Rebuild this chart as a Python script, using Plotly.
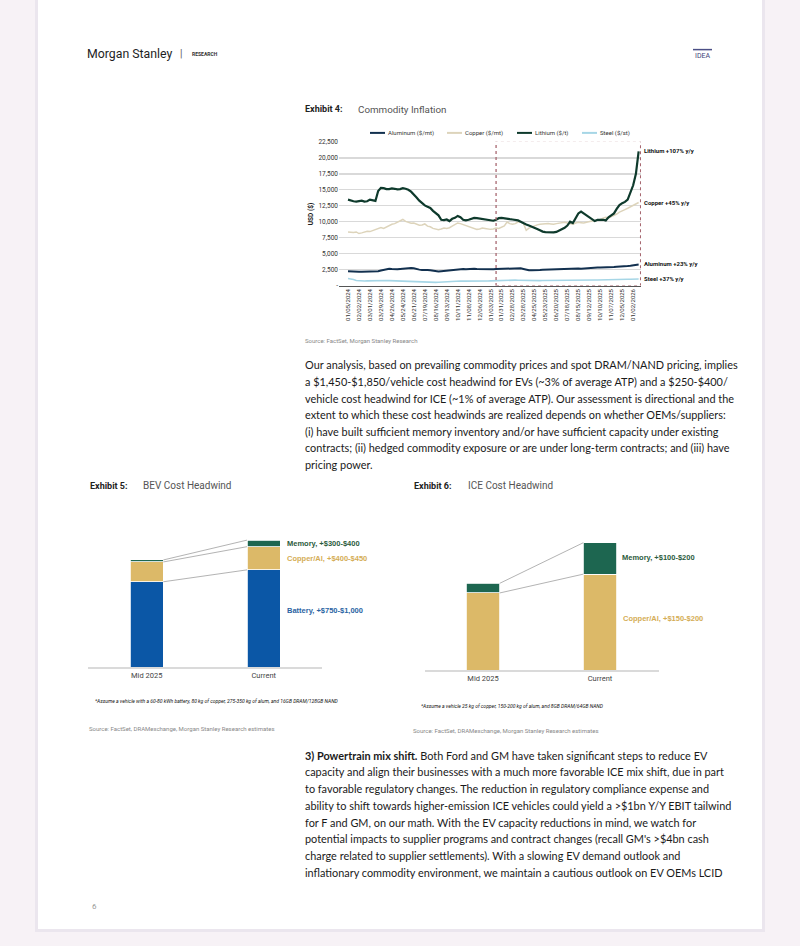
import plotly.graph_objects as go
import pandas as pd

W, H = 800, 946

# ---------------- Exhibit 4 data (weekly) ----------------
dates = pd.date_range("2024-01-05", periods=107, freq="7D")

lithium = [
    13450, 13300, 13200, 13150, 13250, 13300, 13150, 13200, 13450, 13300,
    13250, 14800, 15300, 15250, 15100, 15100, 15200, 15150, 15050, 15100,
    15250, 15150, 15000, 14700, 14300, 13800, 13300, 12900, 12550, 12350,
    12150, 11700, 11300, 11000, 10300, 10250, 10350, 10100, 10450, 10600,
    10900, 10700, 10300, 10200, 10300, 10450, 10600, 10550, 10500, 10450,
    10400, 10350, 10250, 10150, 10300, 10550, 10600, 10500, 10450, 10400,
    10350, 10300, 10200, 10000, 9750, 9550, 9400, 9250, 9050, 8850,
    8650, 8450, 8380, 8330, 8300, 8320, 8400, 8600, 8800, 9050,
    9400, 10000, 9800, 10500, 11300, 11600, 11300, 10900, 10600, 10300,
    10100, 10300, 10350, 10300, 10200, 10700, 11000, 11300, 12000, 12600,
    12900, 13100, 13450, 14500, 15700, 17500, 21000]

copper = [
    8400, 8350, 8300, 8400, 8150, 8250, 8400, 8500, 8450, 8600,
    8700, 8900, 9100, 8950, 9200, 9400, 9600, 9700, 9900, 10100,
    10350, 10050, 9900, 9750, 9800, 9650, 9450, 9500, 9650, 9300,
    9200, 8950, 8800, 8750, 8850, 9000, 8950, 9050, 9300, 9550,
    9800, 9700, 9550, 9450, 9300, 9050, 8950, 8800, 8850, 9000,
    8950, 8850, 8800, 8850, 9000, 8950, 9100, 9350, 9950, 9700,
    9600, 9700, 9950, 10000, 9700, 8650, 9000, 9200, 9350, 9500,
    9600, 9650, 9650, 9700, 9650, 9600, 9700, 9750, 9850, 9900,
    9800, 9700, 9600, 9800, 9900, 9850, 9800, 9900, 10050, 10100,
    10150, 10200, 10350, 10550, 10700, 10600, 10800, 10950, 11200, 11500,
    11750, 11900, 12100, 12300, 12550, 12800, 13000]

aluminum = [
    2250, 2200, 2150, 2100, 2150, 2150, 2150, 2150, 2180, 2200,
    2220, 2250, 2350, 2450, 2550, 2650, 2600, 2550, 2550, 2600,
    2650, 2600, 2650, 2750, 2700, 2550, 2500, 2450, 2500, 2450,
    2400, 2300, 2250, 2200, 2250, 2300, 2400, 2450, 2500, 2550,
    2600, 2650, 2600, 2550, 2600, 2600, 2650, 2600, 2580, 2550,
    2550, 2520, 2500, 2550, 2600, 2620, 2600, 2650, 2650, 2700,
    2650, 2700, 2750, 2700, 2600, 2450, 2400, 2400, 2450, 2500,
    2450, 2480, 2500, 2500, 2550, 2550, 2580, 2600, 2580, 2600,
    2620, 2600, 2620, 2650, 2680, 2650, 2700, 2750, 2700, 2750,
    2800, 2850, 2850, 2850, 2800, 2850, 2900, 2900, 2950, 2950,
    3000, 3000, 3050, 3100, 3150, 3250, 3300]

steel = [
    1100, 1050, 950, 800, 750, 750, 720, 740, 760, 780,
    800, 820, 830, 820, 800, 780, 760, 720, 700, 680,
    660, 650, 640, 630, 640, 640, 620, 600, 580, 560,
    540, 520, 500, 520, 560, 600, 640, 680, 720, 740,
    730, 720, 700, 690, 680, 680, 690, 700, 700, 690,
    700, 720, 740, 760, 780, 800, 850, 880, 900, 880,
    860, 850, 840, 820, 800, 780, 760, 750, 760, 770,
    780, 790, 800, 800, 810, 800, 810, 820, 820, 830,
    830, 830, 840, 840, 840, 850, 850, 860, 860, 870,
    880, 880, 880, 890, 900, 900, 910, 920, 940, 950,
    960, 980, 990, 1000, 1010, 1020, 1030]

series_names = ["Aluminum ($/mt)", "Copper ($/mt)", "Lithium ($/t)", "Steel ($/st)"]
end_labels = ["Aluminum +23% y/y", "Copper +45% y/y", "Lithium +107% y/y", "Steel +37% y/y"]

y_ticks = [0, 2500, 5000, 7500, 10000, 12500, 15000, 17500, 20000, 22500]
y_ticktext = ["-", "2,500", "5,000", "7,500", "10,000", "12,500", "15,000", "17,500", "20,000", "22,500"]
x_tick_dates = pd.date_range("2024-01-05", "2026-01-02", freq="28D")
x_ticktext = [d.strftime("%m/%d/%Y") for d in x_tick_dates]

# ---------------- Exhibit 5 / 6 data (schematic) ----------------
bar_cats = ["Mid 2025", "Current"]
bev_battery = [86, 98]
bev_copper = [20, 23.4]
bev_memory = [2, 6.6]
ice_copper = [78, 97]
ice_memory = [9.7, 31.7]

C_BATT = "#0b57a6"
C_COPPER = "#dcb968"
C_MEM = "#1d6650"

def X(px):
    return px / W

def Y(py):
    return 1 - py / H

fig = go.Figure()

line_styles = {
    "Aluminum ($/mt)": ("#12304f", 2.0, aluminum),
    "Copper ($/mt)": ("#ddd4bb", 1.5, copper),
    "Lithium ($/t)": ("#0e3a2c", 2.2, lithium),
    "Steel ($/st)": ("#a6d6e6", 1.6, steel),
}
for name in ["Steel ($/st)", "Copper ($/mt)", "Aluminum ($/mt)", "Lithium ($/t)"]:
    col, wd, vals = line_styles[name]
    fig.add_trace(go.Scatter(x=dates, y=vals, mode="lines", name=name,
                             line=dict(color=col, width=wd), xaxis="x", yaxis="y",
                             showlegend=False, hoverinfo="skip"))

# BEV stacked bars
for vals, col, nm in [(bev_battery, C_BATT, "Battery"), (bev_copper, C_COPPER, "Copper/Al"), (bev_memory, C_MEM, "Memory")]:
    fig.add_trace(go.Bar(x=[0, 1], y=vals, marker=dict(color=col, line=dict(color="white", width=0.8)),
                         width=0.285, xaxis="x2", yaxis="y2", showlegend=False, name=nm))
# ICE stacked bars
for vals, col, nm in [(ice_copper, C_COPPER, "Copper/Al"), (ice_memory, C_MEM, "Memory")]:
    fig.add_trace(go.Bar(x=[0, 1], y=vals, marker=dict(color=col, line=dict(color="white", width=0.8)),
                         width=0.285, xaxis="x3", yaxis="y3", showlegend=False, name=nm))

shapes = []
# page background
shapes.append(dict(type="rect", xref="paper", yref="paper", x0=X(35), x1=X(765), y0=Y(936), y1=Y(-5),
                   fillcolor="#ebe6ee", line=dict(width=0), layer="below"))
shapes.append(dict(type="rect", xref="paper", yref="paper", x0=X(38), x1=X(762), y0=Y(933), y1=Y(-5),
                   fillcolor="white", line=dict(width=0), layer="below"))

# dashed highlight box on exhibit 4
shapes.append(dict(type="rect", xref="x", yref="y", x0="2025-01-17", x1="2026-01-21", y0=0, y1=22650,
                   line=dict(color="#a76770", width=1.3, dash="dot"), fillcolor="rgba(0,0,0,0)"))

# manual legend for exhibit 4
leg_items = [("Aluminum ($/mt)", "#12304f", 370), ("Copper ($/mt)", "#ddd4bb", 447),
             ("Lithium ($/t)", "#0e3a2c", 517), ("Steel ($/st)", "#a6d6e6", 582)]
annotations = []
for nm, col, lx in leg_items:
    shapes.append(dict(type="line", xref="paper", yref="paper", x0=X(lx), x1=X(lx + 15), y0=Y(130), y1=Y(130),
                       line=dict(color=col, width=2)))
    annotations.append(dict(text=nm, x=X(lx + 16), y=Y(130), xref="paper", yref="paper", xanchor="left",
                            yanchor="middle", showarrow=False, font=dict(family="Roboto", size=6, color="#333")))

# connector lines on bar charts
def connectors(layers, xr, yr):
    tops0, tops1 = 0, 0
    out = []
    for lay in layers:
        tops0 += lay[0]
        tops1 += lay[1]
        out.append(dict(type="line", xref=xr, yref=yr, x0=0 + 0.1425, x1=1 - 0.1425, y0=tops0, y1=tops1,
                        line=dict(color="#a0a0a0", width=0.8)))
    return out

shapes += connectors([bev_battery, bev_copper, bev_memory], "x2", "y2")
shapes += connectors([ice_copper, ice_memory], "x3", "y3")

# header
shapes.append(dict(type="line", xref="paper", yref="paper", x0=X(693), x1=X(712), y0=Y(46), y1=Y(46),
                   line=dict(color="#4b4f86", width=1.5)))

def ann(text, x, y, size, color="#222", family="Roboto", xanchor="left", yanchor="middle", angle=0):
    annotations.append(dict(text=text, x=X(x), y=Y(y), xref="paper", yref="paper", xanchor=xanchor,
                            yanchor=yanchor, showarrow=False, textangle=angle,
                            font=dict(family=family, size=size, color=color)))

ann("Morgan Stanley", 85, 50, 12.3, "#1e1e1e")
ann("|", 178, 50, 10, "#555")
ann("<b>RESEARCH</b>", 190, 50, 5, "#333")
ann("IDEA", 702.5, 52, 7, "#3e4279", xanchor="center")

ann("<b>Exhibit 4:</b>", 303, 106, 9, "#222")
ann("Commodity Inflation", 356, 106, 9.8, "#555")
ann("<b>USD ($)</b>", 311, 212, 6.5, "#222", angle=-90, xanchor="center")

for txt, yy in [("Lithium +107% y/y", 148), ("Copper +45% y/y", 200.5), ("Aluminum +23% y/y", 262), ("Steel +37% y/y", 277)]:
    ann("<b>" + txt + "</b>", 642, yy, 6, "#111")

ann("Source: FactSet, Morgan Stanley Research", 303, 339, 6, "#888")

para1 = [
    "Our analysis, based on prevailing commodity prices and spot DRAM/NAND pricing, implies",
    "a $1,450-$1,850/vehicle cost headwind for EVs (~3% of average ATP) and a $250-$400/",
    "vehicle cost headwind for ICE (~1% of average ATP). Our assessment is directional and the",
    "extent to which these cost headwinds are realized depends on whether OEMs/suppliers:",
    "(i) have built sufficient memory inventory and/or have sufficient capacity under existing",
    "contracts; (ii) hedged commodity exposure or are under long-term contracts; and (iii) have",
    "pricing power.",
]
for i, line in enumerate(para1):
    ann(line, 303, 364 + i * 16.7, 10.9, "#1a1a1a", family="Lato")

ann("<b>Exhibit 5:</b>", 88, 486, 9, "#222")
ann("BEV Cost Headwind", 141, 486, 10, "#555")
ann("<b>Exhibit 6:</b>", 412, 486, 9, "#222")
ann("ICE Cost Headwind", 466, 486, 10, "#555")

ann("<b>Memory, +$300-$400</b>", 285, 544, 7.5, "#2c5b3c", family="Liberation Sans")
ann("<b>Copper/Al, +$400-$450</b>", 285, 559.5, 7.5, "#d4ad55", family="Liberation Sans")
ann("<b>Battery, +$750-$1,000</b>", 285, 612, 7.5, "#2a64a3", family="Liberation Sans")
ann("<b>Memory, +$100-$200</b>", 620, 558.5, 7.5, "#2c5b3c", family="Liberation Sans")
ann("<b>Copper/Al, +$150-$200</b>", 621, 619.5, 7.5, "#d4ad55", family="Liberation Sans")

ann("<i>*Assume a vehicle with a 60-80 kWh battery, 80 kg of copper, 275-350 kg of alum, and 16GB DRAM/128GB NAND</i>",
    93, 703, 5, "#111")
ann("<i>*Assume a vehicle 25 kg of copper, 150-200 kg of alum, and 8GB DRAM/64GB NAND</i>", 419, 708, 5, "#111")
ann("Source: FactSet, DRAMexchange, Morgan Stanley Research estimates", 87, 731, 6, "#888")
ann("Source: FactSet, DRAMexchange, Morgan Stanley Research estimates", 411, 733, 6, "#888")

para2 = [
    "<b>3) Powertrain mix shift.</b> Both Ford and GM have taken significant steps to reduce EV",
    "capacity and align their businesses with a much more favorable ICE mix shift, due in part",
    "to favorable regulatory changes. The reduction in regulatory compliance expense and",
    "ability to shift towards higher-emission ICE vehicles could yield a &gt;$1bn Y/Y EBIT tailwind",
    "for F and GM, on our math. With the EV capacity reductions in mind, we watch for",
    "potential impacts to supplier programs and contract changes (recall GM's &gt;$4bn cash",
    "charge related to supplier settlements). With a slowing EV demand outlook and",
    "inflationary commodity environment, we maintain a cautious outlook on EV OEMs LCID",
]
for i, line in enumerate(para2):
    ann(line, 303, 757.5 + i * 16.9, 10.9, "#1a1a1a", family="Lato")

ann("6", 90, 910, 8, "#999")

# ---------------- layout ----------------
fig.update_layout(
    width=W, height=H, margin=dict(l=0, r=0, t=0, b=0),
    paper_bgcolor="#f7f2f6", plot_bgcolor="white",
    barmode="stack", bargap=0,
    shapes=shapes, annotations=annotations, showlegend=False,
    xaxis=dict(domain=[X(339), X(641)], type="date", range=["2023-12-13", "2026-01-22"],
               tickvals=list(x_tick_dates), ticktext=x_ticktext, tickangle=-90,
               tickfont=dict(family="Roboto", size=6, color="#333"), showgrid=False,
               showline=True, linecolor="#555", linewidth=1, ticks="", zeroline=False, fixedrange=True),
    yaxis=dict(domain=[Y(284), Y(139)], range=[0, 22500], tickvals=y_ticks, ticktext=y_ticktext,
               tickfont=dict(family="Roboto", size=6.5, color="#333"), showgrid=True, gridcolor="#d9d9d9",
               gridwidth=1.5, zeroline=False, showline=False, ticks="", fixedrange=True),
    xaxis2=dict(domain=[X(88.2), X(322.2)], range=[-0.5, 1.5], tickvals=[0, 1], ticktext=bar_cats,
                tickfont=dict(family="Roboto", size=7.5, color="#444"), showgrid=False, zeroline=False,
                showline=True, linecolor="#dadada", linewidth=1.5, ticks="", anchor="y2"),
    yaxis2=dict(domain=[Y(668.7), Y(518.7)], range=[0, 150], visible=False, anchor="x2"),
    xaxis3=dict(domain=[X(424.5), X(658.5)], range=[-0.5, 1.5], tickvals=[0, 1], ticktext=bar_cats,
                tickfont=dict(family="Roboto", size=7.5, color="#444"), showgrid=False, zeroline=False,
                showline=True, linecolor="#dadada", linewidth=1.5, ticks="", anchor="y3"),
    yaxis3=dict(domain=[Y(672), Y(522)], range=[0, 150], visible=False, anchor="x3"),
)

fig.write_html("out.html", config={"displayModeBar": False, "staticPlot": True},
               post_script="document.body.style.margin='0';document.body.style.overflow='hidden';")
